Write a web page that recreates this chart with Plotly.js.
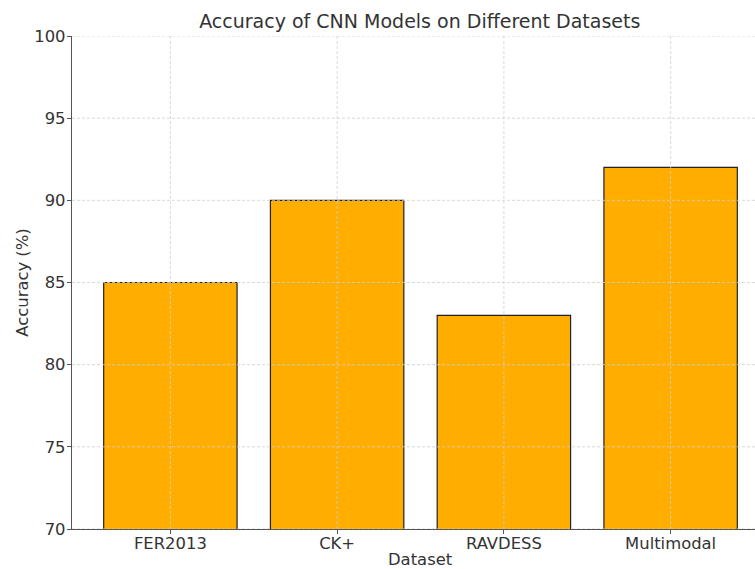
<!DOCTYPE html>
<html><head><meta charset="utf-8">
<script src="https://cdn.plot.ly/plotly-3.0.1.min.js"></script>
<style>body{margin:0;background:#fff}#chart{width:755px;height:569px}</style>
</head><body><div id="chart"></div>
<script>
const datasets = ["FER2013", "CK+", "RAVDESS", "Multimodal"];
const accuracy = [85, 90, 83, 92];
const yTicks = [70, 75, 80, 85, 90, 95, 100];

const font = "DejaVu Sans, sans-serif";
const idx = datasets.map((_, i) => i);
const xr = [-0.59, 3.506];
const yr = [70, 100];

const gridStyle = {color: "#cfcfcf", width: 0.8, dash: "3px,2px"};
const gx = [], gy = [];
idx.forEach(i => { gx.push(i, i, null); gy.push(yr[0], yr[1], null); });
const hx = [], hy = [];
yTicks.forEach(t => { hx.push(xr[0], xr[1], null); hy.push(t, t, null); });

const traces = [
  {type: "bar", x: idx, y: accuracy, width: 0.8,
   marker: {color: "#ffae00", line: {color: "#222", width: 1.2}},
   hoverinfo: "x+y"},
  {type: "scatter", x: gx, y: gy, mode: "lines", line: gridStyle, hoverinfo: "skip", cliponaxis: true},
  {type: "scatter", x: hx, y: hy, mode: "lines", line: gridStyle, hoverinfo: "skip", cliponaxis: true}
];

const layout = {
  width: 755, height: 569,
  margin: {l: 72, r: 0, t: 36, b: 40},
  paper_bgcolor: "#fff", plot_bgcolor: "#fff",
  showlegend: false,
  font: {family: font, color: "#333", size: 16.4},
  title: {text: "Accuracy of CNN Models on Different Datasets", font: {size: 19, color: "#333"},
          x: 0.556, xanchor: "center", y: 0.963, yanchor: "middle"},
  xaxis: {range: xr, tickmode: "array", tickvals: idx, ticktext: datasets,
          showgrid: false, zeroline: false, showline: true, linecolor: "#555", linewidth: 1.2,
          ticks: "outside", ticklen: 4, tickcolor: "#555", tickfont: {size: 16.4, color: "#333"},
          ticklabelstandoff: -5,
          layer: "above traces"},
  yaxis: {range: yr, tickmode: "array", tickvals: yTicks,
          showgrid: false, zeroline: false, showline: true, linecolor: "#555", linewidth: 1.2,
          ticks: "outside", ticklen: 4, tickcolor: "#555", tickfont: {size: 16.4, color: "#333"},
          ticklabelstandoff: -2,
          title: {text: "Accuracy (%)", font: {size: 16.4, color: "#333"}, standoff: 1},
          layer: "above traces"},
  annotations: [
    {text: "Dataset", xref: "paper", yref: "paper", x: 0.51, y: -0.062,
     xanchor: "center", yanchor: "middle", showarrow: false, borderpad: 0,
     font: {size: 16.4, color: "#333", family: font}}
  ]
};
Plotly.newPlot("chart", traces, layout, {displayModeBar: false, staticPlot: true});
</script></body></html>
